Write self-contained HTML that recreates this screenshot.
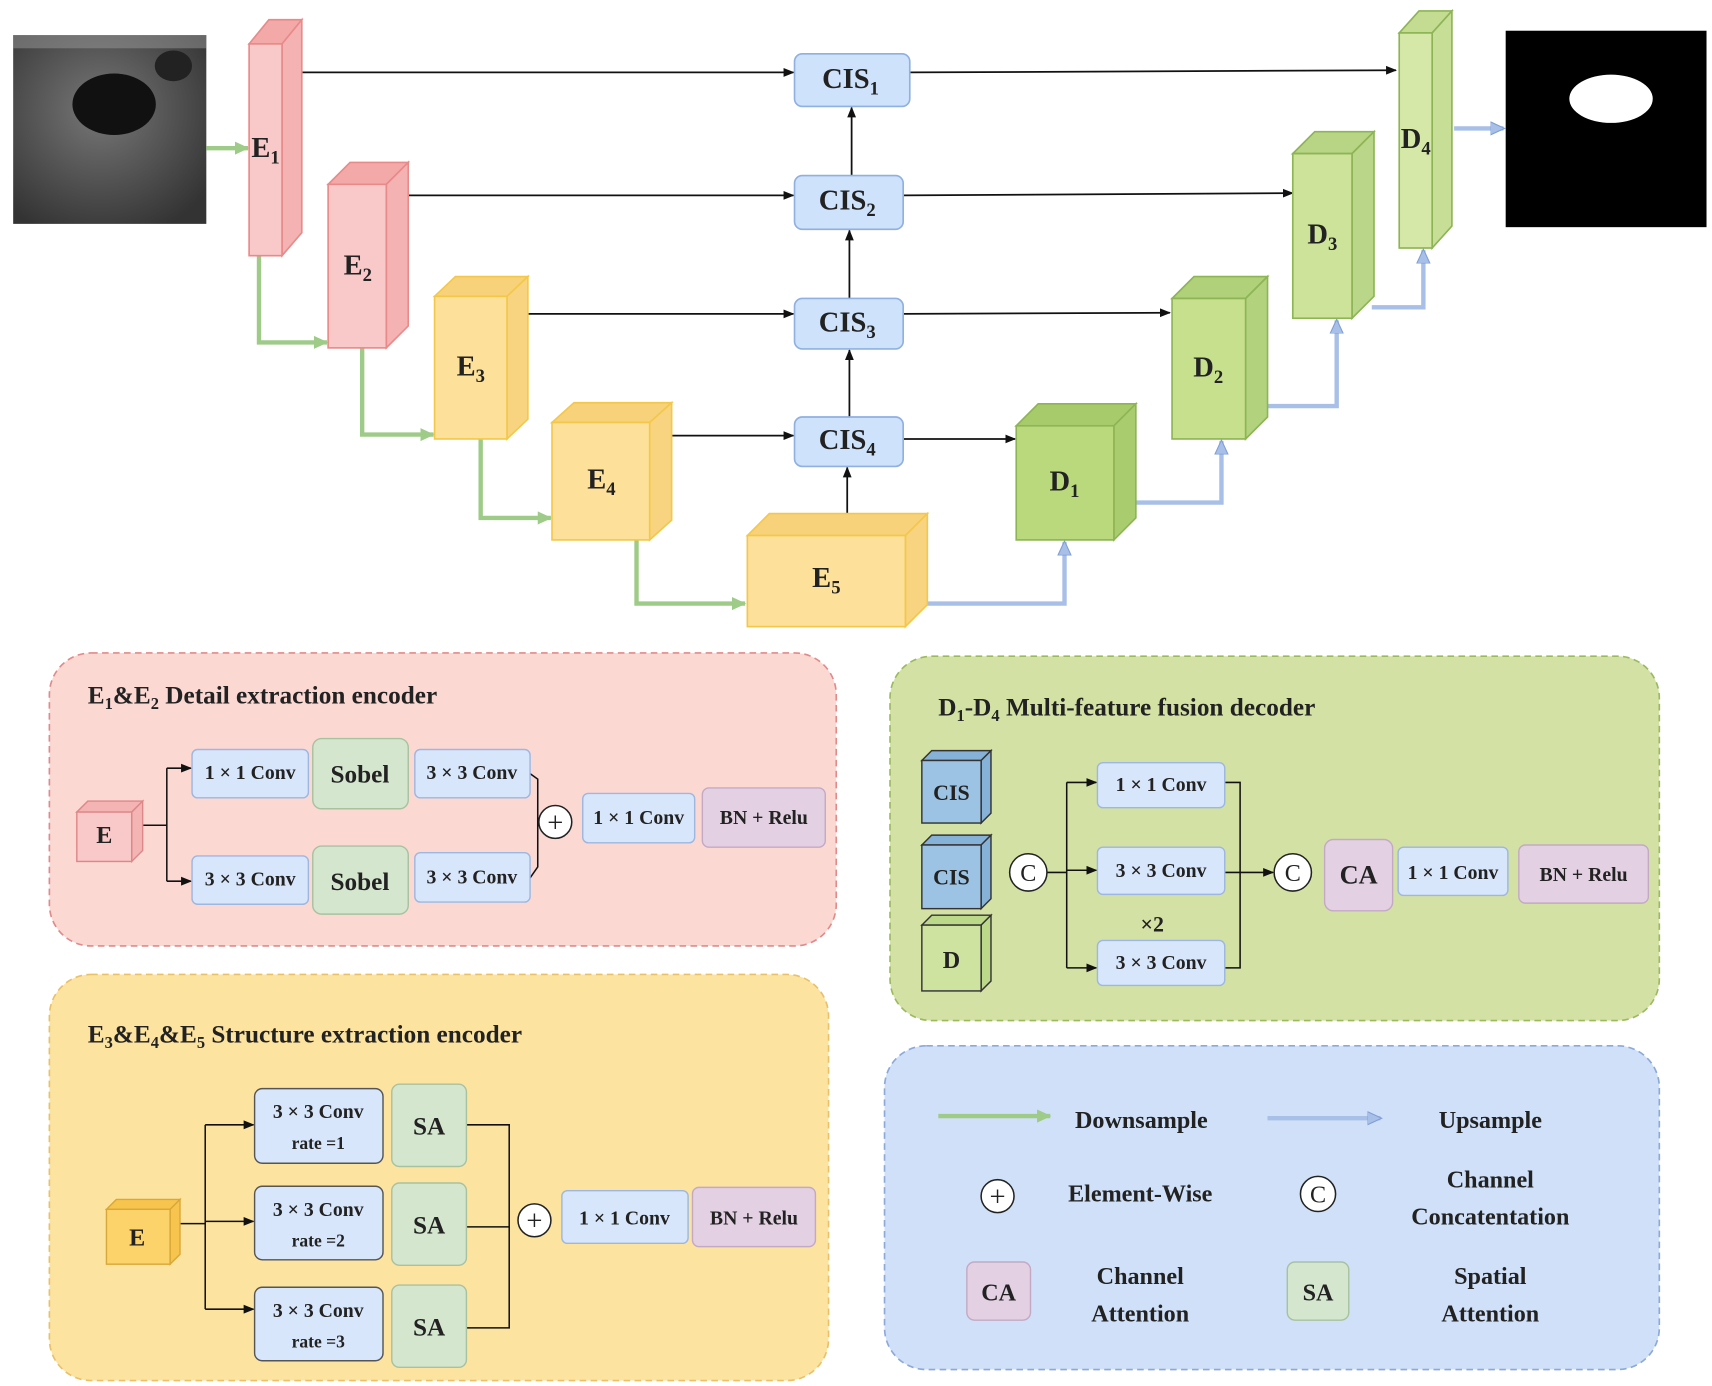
<!DOCTYPE html>
<html><head><meta charset="utf-8"><style>
html,body{margin:0;padding:0;background:#fff}
svg{display:block}
text{font-family:"Liberation Serif",serif;fill:#222}
</style></head><body>
<svg width="1712" height="1386" viewBox="0 0 1560 1263" preserveAspectRatio="none" xmlns="http://www.w3.org/2000/svg">
<defs>
<marker id="ab" markerWidth="10" markerHeight="10" refX="9" refY="5" orient="auto" markerUnits="userSpaceOnUse"><path d="M0,1 L10,5 L0,9 z" fill="#111"/></marker>
<marker id="ag" markerWidth="14" markerHeight="14" refX="12" refY="7" orient="auto" markerUnits="userSpaceOnUse"><path d="M0,1 L13,7 L0,13 z" fill="#9fcb88"/></marker>
<marker id="au" markerWidth="14" markerHeight="14" refX="12" refY="7" orient="auto" markerUnits="userSpaceOnUse"><path d="M0,1 L13,7 L0,13 z" fill="#a8bfe8" stroke="#7f9fd6"/></marker>
<radialGradient id="us" cx="0.45" cy="0.4" r="0.7"><stop offset="0" stop-color="#777"/><stop offset="1" stop-color="#333"/></radialGradient>
</defs>

<rect x="12" y="32" width="176" height="172" fill="url(#us)"/>
<ellipse cx="104" cy="95" rx="38" ry="28" fill="#111"/>
<ellipse cx="158" cy="60" rx="17" ry="14" fill="#222"/>
<rect x="12" y="32" width="176" height="12" fill="#999" opacity="0.5"/>
<rect x="1372" y="28" width="183" height="179" fill="#000"/>
<ellipse cx="1468" cy="90" rx="38" ry="22" fill="#fff"/>

<g stroke="#111" stroke-width="1.6" fill="none" marker-end="url(#ab)">
<line x1="275" y1="66" x2="723" y2="66"/>
<line x1="829" y1="66" x2="1272" y2="64"/>
<line x1="372" y1="178" x2="723" y2="178"/>
<line x1="823" y1="178" x2="1178" y2="176"/>
<line x1="481" y1="286" x2="723" y2="286"/>
<line x1="823" y1="286" x2="1066" y2="285"/>
<line x1="612" y1="397" x2="723" y2="397"/>
<line x1="823" y1="400" x2="925" y2="400"/>
<line x1="772" y1="468" x2="772" y2="426"/>
<line x1="774" y1="380" x2="774" y2="319"/>
<line x1="774" y1="272" x2="774" y2="210"/>
<line x1="776" y1="160" x2="776" y2="98"/>
</g>

<g stroke="#9fcb88" stroke-width="4" fill="none" marker-end="url(#ag)">
<line x1="188" y1="135" x2="226" y2="135"/>
<polyline points="236,233 236,312 298,312"/>
<polyline points="330,317 330,396 395,396"/>
<polyline points="438,400 438,472 502,472"/>
<polyline points="580,492 580,550 679,550"/>
</g>
<g stroke="#a8bfe8" stroke-width="4" fill="none" marker-end="url(#au)">
<polyline points="845,550 970,550 970,494"/>
<polyline points="1035,458 1113,458 1113,402"/>
<polyline points="1155,370 1218,370 1218,292"/>
<polyline points="1250,280 1297,280 1297,228"/>
<line x1="1325" y1="117" x2="1370" y2="117"/>
</g>

<g stroke-width="1.5">
<g fill="#f9c9c9" stroke="#e88a8a"><polygon points="227,40 245,18 275,18 257,40" fill="#f4a9a9"/><polygon points="257,40 275,18 275,212 257,233" fill="#f4b2b2"/><rect x="227" y="40" width="30" height="193"/></g>
<g fill="#f9c9c9" stroke="#e88a8a"><polygon points="299,168 319,148 372,148 352,168" fill="#f4a9a9"/><polygon points="352,168 372,148 372,297 352,317" fill="#f4b2b2"/><rect x="299" y="168" width="53" height="149"/></g>
<g fill="#fde09a" stroke="#f3c84a"><polygon points="396,270 415,252 481,252 462,270" fill="#f8d27a"/><polygon points="462,270 481,252 481,382 462,400" fill="#f8d480"/><rect x="396" y="270" width="66" height="130"/></g>
<g fill="#fde09a" stroke="#f3c84a"><polygon points="503,385 523,367 612,367 592,385" fill="#f8d27a"/><polygon points="592,385 612,367 612,474 592,492" fill="#f8d480"/><rect x="503" y="385" width="89" height="107"/></g>
<g fill="#fde09a" stroke="#f3c84a"><polygon points="681,488 701,468 845,468 825,488" fill="#f8d27a"/><polygon points="825,488 845,468 845,551 825,571" fill="#f8d480"/><rect x="681" y="488" width="144" height="83"/></g>
<g fill="#b9d97c" stroke="#8db455"><polygon points="926,388 946,368 1035,368 1015,388" fill="#a7cb6b"/><polygon points="1015,388 1035,368 1035,472 1015,492" fill="#a9cc6e"/><rect x="926" y="388" width="89" height="104"/></g>
<g fill="#c7e08e" stroke="#8db455"><polygon points="1068,272 1088,252 1155,252 1135,272" fill="#b0d07a"/><polygon points="1135,272 1155,252 1155,380 1135,400" fill="#b3d27e"/><rect x="1068" y="272" width="67" height="128"/></g>
<g fill="#cde39a" stroke="#8db455"><polygon points="1178,140 1198,120 1252,120 1232,140" fill="#b7d585"/><polygon points="1232,140 1252,120 1252,270 1232,290" fill="#bad688"/><rect x="1178" y="140" width="54" height="150"/></g>
<g fill="#d5e8a8" stroke="#8db455"><polygon points="1275,30 1293,10 1323,10 1305,30" fill="#c3dc92"/><polygon points="1305,30 1323,10 1323,206 1305,226" fill="#c6de96"/><rect x="1275" y="30" width="30" height="196"/></g>
</g>
<g font-size="26" font-weight="bold" text-anchor="middle">
<text x="242" y="143">E<tspan font-size="17" dy="6">1</tspan></text>
<text x="326" y="250">E<tspan font-size="17" dy="6">2</tspan></text>
<text x="429" y="342">E<tspan font-size="17" dy="6">3</tspan></text>
<text x="548" y="445">E<tspan font-size="17" dy="6">4</tspan></text>
<text x="753" y="535">E<tspan font-size="17" dy="6">5</tspan></text>
<text x="970" y="447">D<tspan font-size="17" dy="6">1</tspan></text>
<text x="1101" y="343">D<tspan font-size="17" dy="6">2</tspan></text>
<text x="1205" y="222">D<tspan font-size="17" dy="6">3</tspan></text>
<text x="1290" y="135">D<tspan font-size="17" dy="6">4</tspan></text>
</g>

<g fill="#cfe2fb" stroke="#8fb0e0" stroke-width="1.5">
<rect x="724" y="49" width="105" height="48" rx="7"/>
<rect x="724" y="160" width="99" height="49" rx="7"/>
<rect x="724" y="272" width="99" height="46" rx="7"/>
<rect x="724" y="380" width="99" height="45" rx="7"/>
</g>
<g font-size="26" font-weight="bold" text-anchor="middle">
<text x="775" y="80">CIS<tspan font-size="17" dy="6">1</tspan></text>
<text x="772" y="191">CIS<tspan font-size="17" dy="6">2</tspan></text>
<text x="772" y="302">CIS<tspan font-size="17" dy="6">3</tspan></text>
<text x="772" y="409">CIS<tspan font-size="17" dy="6">4</tspan></text>
</g>

<rect x="45" y="595" width="717" height="267" rx="38" fill="#fcd8d3" stroke="#e08a8a" stroke-width="1.5" stroke-dasharray="6,4"/>
<rect x="45" y="888" width="710" height="370" rx="38" fill="#fde3a0" stroke="#e8c16a" stroke-width="1.5" stroke-dasharray="6,4"/>
<rect x="811" y="598" width="701" height="332" rx="38" fill="#d3e2a4" stroke="#9bba60" stroke-width="1.5" stroke-dasharray="6,4"/>
<rect x="806" y="953" width="706" height="295" rx="38" fill="#cfe0f8" stroke="#8ca9d8" stroke-width="1.5" stroke-dasharray="6,4"/>

<line x1="855" y1="1017" x2="957" y2="1017" stroke="#9fcb88" stroke-width="4" marker-end="url(#ag)"/>
<line x1="1155" y1="1019" x2="1258" y2="1019" stroke="#a8bfe8" stroke-width="4" marker-end="url(#au)"/>

<g font-size="23" font-weight="bold">
<text x="80" y="641">E<tspan font-size="15" dy="5">1</tspan><tspan dy="-5">&amp;E</tspan><tspan font-size="15" dy="5">2</tspan><tspan dy="-5">  Detail extraction encoder</tspan></text>
<text x="80" y="950">E<tspan font-size="15" dy="5">3</tspan><tspan dy="-5">&amp;E</tspan><tspan font-size="15" dy="5">4</tspan><tspan dy="-5">&amp;E</tspan><tspan font-size="15" dy="5">5</tspan><tspan dy="-5">  Structure extraction encoder</tspan></text>
<text x="855" y="652">D<tspan font-size="15" dy="5">1</tspan><tspan dy="-5">-D</tspan><tspan font-size="15" dy="5">4</tspan><tspan dy="-5">  Multi-feature fusion decoder</tspan></text>
</g>

<g stroke="#111" stroke-width="1.4" fill="none">
<line x1="130" y1="752" x2="152" y2="752"/>
<line x1="152" y1="700" x2="152" y2="803"/>
<line x1="152" y1="700" x2="174" y2="700" marker-end="url(#ab)"/>
<line x1="152" y1="803" x2="174" y2="803" marker-end="url(#ab)"/>
<polyline points="483,705 490,710 490,790 483,800"/>
</g>
<g fill="#f9c9c9" stroke="#d88" stroke-width="1.3"><polygon points="70,740 80,730 130,730 120,740" fill="#f4b4b4"/><polygon points="120,740 130,730 130,775 120,785" fill="#f4b4b4"/><rect x="70" y="740" width="50" height="45"/></g>
<text x="95" y="768" font-size="22" font-weight="bold" text-anchor="middle">E</text>
<g stroke-width="1.3">
<rect x="175" y="683" width="106" height="44" rx="5" fill="#d8e6fb" stroke="#9db7e0"/>
<rect x="285" y="673" width="87" height="64" rx="8" fill="#d5e6cf" stroke="#a8c2a0"/>
<rect x="378" y="683" width="105" height="44" rx="5" fill="#d8e6fb" stroke="#9db7e0"/>
<rect x="175" y="780" width="106" height="44" rx="5" fill="#d8e6fb" stroke="#9db7e0"/>
<rect x="285" y="771" width="87" height="62" rx="8" fill="#d5e6cf" stroke="#a8c2a0"/>
<rect x="378" y="777" width="105" height="45" rx="5" fill="#d8e6fb" stroke="#9db7e0"/>
<rect x="531" y="723" width="102" height="45" rx="5" fill="#d8e6fb" stroke="#9db7e0"/>
<rect x="640" y="718" width="112" height="54" rx="6" fill="#e3d1e3" stroke="#c4a9c4"/>
</g>
<circle cx="506" cy="749" r="15" fill="#fff" stroke="#222" stroke-width="1.4"/>
<text x="506" y="758" font-size="26" text-anchor="middle">+</text>
<g font-size="18" font-weight="bold" text-anchor="middle">
<text x="228" y="710">1 × 1 Conv</text>
<text x="430" y="710">3 × 3 Conv</text>
<text x="228" y="807">3 × 3 Conv</text>
<text x="430" y="805">3 × 3 Conv</text>
<text x="582" y="751">1 × 1 Conv</text>
<text x="696" y="751">BN + Relu</text>
<text x="328" y="713" font-size="23">Sobel</text>
<text x="328" y="811" font-size="23">Sobel</text>
</g>

<g stroke="#111" stroke-width="1.4" fill="none">
<line x1="162" y1="1115" x2="187" y2="1115"/>
<line x1="187" y1="1025" x2="187" y2="1193"/>
<line x1="187" y1="1025" x2="231" y2="1025" marker-end="url(#ab)"/>
<line x1="187" y1="1113" x2="231" y2="1113" marker-end="url(#ab)"/>
<line x1="187" y1="1193" x2="231" y2="1193" marker-end="url(#ab)"/>
<polyline points="425,1025 464,1025 464,1210 425,1210"/>
<line x1="425" y1="1118" x2="464" y2="1118"/>
</g>
<g fill="#fcd36a" stroke="#d9a83a" stroke-width="1.3"><polygon points="97,1102 106,1093 164,1093 155,1102" fill="#f7c54e"/><polygon points="155,1102 164,1093 164,1143 155,1152" fill="#f7c54e"/><rect x="97" y="1102" width="58" height="50"/></g>
<text x="125" y="1135" font-size="22" font-weight="bold" text-anchor="middle">E</text>
<g stroke-width="1.3">
<rect x="232" y="992" width="117" height="68" rx="7" fill="#d8e6fb" stroke="#555"/>
<rect x="232" y="1081" width="117" height="67" rx="7" fill="#d8e6fb" stroke="#555"/>
<rect x="232" y="1173" width="117" height="67" rx="7" fill="#d8e6fb" stroke="#555"/>
<rect x="357" y="988" width="68" height="75" rx="7" fill="#d5e6cf" stroke="#a8c2a0"/>
<rect x="357" y="1078" width="68" height="75" rx="7" fill="#d5e6cf" stroke="#a8c2a0"/>
<rect x="357" y="1171" width="68" height="75" rx="7" fill="#d5e6cf" stroke="#a8c2a0"/>
<rect x="512" y="1085" width="115" height="48" rx="5" fill="#d8e6fb" stroke="#9db7e0"/>
<rect x="631" y="1082" width="112" height="54" rx="6" fill="#e3d1e3" stroke="#c4a9c4"/>
</g>
<circle cx="487" cy="1112" r="15" fill="#fff" stroke="#222" stroke-width="1.4"/>
<text x="487" y="1121" font-size="26" text-anchor="middle">+</text>
<g font-size="18" font-weight="bold" text-anchor="middle">
<text x="290" y="1019">3 × 3 Conv</text><text x="290" y="1047" font-size="16">rate =1</text>
<text x="290" y="1108">3 × 3 Conv</text><text x="290" y="1136" font-size="16">rate =2</text>
<text x="290" y="1200">3 × 3 Conv</text><text x="290" y="1228" font-size="16">rate =3</text>
<text x="391" y="1034" font-size="23">SA</text>
<text x="391" y="1124" font-size="23">SA</text>
<text x="391" y="1217" font-size="23">SA</text>
<text x="569" y="1116">1 × 1 Conv</text>
<text x="687" y="1116">BN + Relu</text>
</g>

<g stroke="#111" stroke-width="1.4" fill="none">
<line x1="954" y1="795" x2="972" y2="795"/>
<line x1="972" y1="713" x2="972" y2="882"/>
<line x1="972" y1="713" x2="999" y2="713" marker-end="url(#ab)"/>
<line x1="972" y1="793" x2="999" y2="793" marker-end="url(#ab)"/>
<line x1="972" y1="882" x2="999" y2="882" marker-end="url(#ab)"/>
<polyline points="1116,713 1130,713 1130,882 1116,882"/>
<line x1="1116" y1="795" x2="1160" y2="795" marker-end="url(#ab)"/>
</g>
<g stroke="#333" stroke-width="1.3">
<g fill="#9cc3e3"><polygon points="840,693 849,684 903,684 894,693" fill="#86b2d8"/><polygon points="894,693 903,684 903,741 894,750" fill="#86b2d8"/><rect x="840" y="693" width="54" height="57"/></g>
<g fill="#9cc3e3"><polygon points="840,770 849,761 903,761 894,770" fill="#86b2d8"/><polygon points="894,770 903,761 903,819 894,828" fill="#86b2d8"/><rect x="840" y="770" width="54" height="58"/></g>
<g fill="#cfe3a0"><polygon points="840,843 849,834 903,834 894,843" fill="#bcd889"/><polygon points="894,843 903,834 903,894 894,903" fill="#bcd889"/><rect x="840" y="843" width="54" height="60"/></g>
</g>
<g font-size="20" font-weight="bold" text-anchor="middle">
<text x="867" y="729">CIS</text><text x="867" y="806">CIS</text><text x="867" y="882" font-size="22">D</text>
</g>
<circle cx="937" cy="795" r="17" fill="#fff" stroke="#222" stroke-width="1.4"/>
<text x="937" y="803" font-size="22" text-anchor="middle">C</text>
<circle cx="1178" cy="795" r="17" fill="#fff" stroke="#222" stroke-width="1.4"/>
<text x="1178" y="803" font-size="22" text-anchor="middle">C</text>
<g stroke-width="1.3">
<rect x="1000" y="695" width="116" height="41" rx="5" fill="#d8e6fb" stroke="#9db7e0"/>
<rect x="1000" y="772" width="116" height="43" rx="5" fill="#d8e6fb" stroke="#9db7e0"/>
<rect x="1000" y="857" width="116" height="41" rx="5" fill="#d8e6fb" stroke="#9db7e0"/>
<rect x="1207" y="765" width="62" height="65" rx="8" fill="#e3d1e3" stroke="#c4a9c4"/>
<rect x="1274" y="772" width="100" height="44" rx="5" fill="#d8e6fb" stroke="#9db7e0"/>
<rect x="1384" y="770" width="118" height="53" rx="6" fill="#e3d1e3" stroke="#c4a9c4"/>
</g>
<g font-size="18" font-weight="bold" text-anchor="middle">
<text x="1058" y="721">1 × 1 Conv</text>
<text x="1058" y="799">3 × 3 Conv</text>
<text x="1058" y="883">3 × 3 Conv</text>
<text x="1050" y="849" font-size="20">×2</text>
<text x="1238" y="805" font-size="24">CA</text>
<text x="1324" y="801">1 × 1 Conv</text>
<text x="1443" y="803">BN + Relu</text>
</g>

<g font-size="22" font-weight="bold" text-anchor="middle">
<text x="1040" y="1028">Downsample</text>
<text x="1358" y="1028">Upsample</text>
<text x="1039" y="1095">Element-Wise</text>
<text x="1358" y="1082">Channel</text><text x="1358" y="1116">Concatentation</text>
<text x="1039" y="1170">Channel</text><text x="1039" y="1204">Attention</text>
<text x="1358" y="1170">Spatial</text><text x="1358" y="1204">Attention</text>
</g>
<circle cx="909" cy="1090" r="15" fill="#fff" stroke="#222" stroke-width="1.4"/>
<text x="909" y="1099" font-size="26" text-anchor="middle">+</text>
<circle cx="1201" cy="1088" r="16" fill="#fff" stroke="#222" stroke-width="1.4"/>
<text x="1201" y="1096" font-size="22" text-anchor="middle">C</text>
<rect x="881" y="1150" width="58" height="53" rx="7" fill="#e3d1e3" stroke="#c4a9c4" stroke-width="1.3"/>
<text x="910" y="1185" font-size="22" font-weight="bold" text-anchor="middle">CA</text>
<rect x="1173" y="1150" width="56" height="53" rx="7" fill="#d5e6cf" stroke="#a8c2a0" stroke-width="1.3"/>
<text x="1201" y="1185" font-size="22" font-weight="bold" text-anchor="middle">SA</text>
</svg>
</body></html>
